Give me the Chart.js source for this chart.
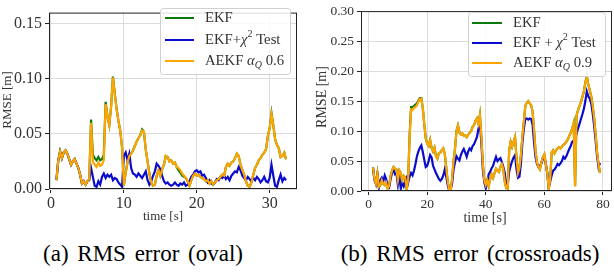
<!DOCTYPE html>
<html>
<head>
<meta charset="utf-8">
<script src="https://cdn.jsdelivr.net/npm/chart.js@4.4.0/dist/chart.umd.min.js"></script>
<style>
  body { margin: 0; background: #fff; }
  #wrap { position: relative; width: 614px; height: 272px; }
  .panel { position: absolute; top: 0; width: 307px; height: 228px; }
  .cap { position: absolute; top: 241px; font-family: "Liberation Serif", serif; font-size: 23px;
         line-height: 26px; white-space: nowrap; transform: translateX(-50%); color: #000; word-spacing: 3px; }
</style>
</head>
<body>
<div id="wrap">
  <div class="panel" style="left:0"><canvas id="oval" width="307" height="228"></canvas></div>
  <div class="panel" style="left:307px"><canvas id="cross" width="307" height="228"></canvas></div>
  <div class="cap" style="left:143px">(a) RMS error (oval)</div>
  <div class="cap" style="left:470px">(b) RMS error (crossroads)</div>
</div>
<script>
// ---- oval run: samples every 0.25 s starting at 0.75 s
const ovalStart = 0.75, ovalStep = 0.25;
const ovalEkf = [
  0.008,
  0.026, 0.034, 0.028, 0.033,  0.035, 0.032, 0.027, 0.022,  0.025, 0.027, 0.023, 0.019,
  0.013, 0.005, 0.007, 0.004,  0.007, 0.009, 0.063, 0.031,  0.028, 0.026, 0.029, 0.026,
  0.027, 0.031, 0.079, 0.066,  0.058, 0.075, 0.102, 0.087,  0.073, 0.062, 0.053, 0.038,
  0.003, 0.015, 0.024, 0.030,  0.032, 0.035, 0.039, 0.043,  0.046, 0.049, 0.054, 0.052,
  0.036, 0.025, 0.014, 0.006,  0.003, 0.004, 0.012, 0.017,  0.012, 0.018, 0.022, 0.030,
  0.029, 0.025, 0.026, 0.023,  0.024, 0.020, 0.017, 0.015,  0.012, 0.011, 0.010, 0.007,
  0.003, 0.008, 0.012, 0.014,  0.012, 0.013, 0.011, 0.010,  0.009, 0.007, 0.008, 0.005,
  0.007, 0.004, 0.006, 0.008,  0.009, 0.011, 0.013, 0.012,  0.020, 0.023, 0.021, 0.024,
  0.025, 0.028, 0.032, 0.030,  0.022, 0.017, 0.013, 0.007,  0.003, 0.002, 0.006, 0.013,
  0.019, 0.022, 0.026, 0.028,  0.031, 0.033, 0.036, 0.048,  0.055, 0.069, 0.058, 0.045,
  0.040, 0.037, 0.029, 0.030,  0.033, 0.027
];
const ovalChi2 = [
  0.008,
  0.026, 0.034, 0.028, 0.033,  0.035, 0.032, 0.027, 0.022,  0.025, 0.027, 0.023, 0.019,
  0.013, 0.005, 0.007, 0.004,  0.007, 0.008, 0.019, 0.011,  0.003, 0.002, 0.007, 0.004,
  0.011, 0.014, 0.010, 0.013,  0.011, 0.013, 0.008, 0.010,  0.009, 0.006, 0.004, 0.002,
  0.030, 0.033, 0.026, 0.032,  0.019, 0.014, 0.013, 0.011,  0.014, 0.012, 0.010, 0.013,
  0.016, 0.008, 0.004, 0.007,  0.012, 0.016, 0.023, 0.021,  0.018, 0.012, 0.007, 0.005,
  0.006, 0.004, 0.003, 0.004,  0.006, 0.004, 0.003, 0.005,  0.004, 0.006, 0.003, 0.004,
  0.007, 0.011, 0.013, 0.016,  0.017, 0.015, 0.016, 0.012,  0.013, 0.010, 0.006, 0.008,
  0.005, 0.004, 0.006, 0.009,  0.008, 0.011, 0.010, 0.012,  0.009, 0.011, 0.008, 0.012,
  0.014, 0.016, 0.015, 0.020,  0.017, 0.012, 0.010, 0.008,  0.011, 0.009, 0.007, 0.010,
  0.008, 0.011, 0.009, 0.006,  0.008, 0.011, 0.007, 0.006,  0.010, 0.022, 0.012, 0.003,
  0.002, 0.008, 0.013, 0.007,  0.010, 0.008
];
const ovalAekf = [
  0.008,
  0.026, 0.034, 0.028, 0.033,  0.035, 0.032, 0.027, 0.022,  0.025, 0.027, 0.023, 0.019,
  0.013, 0.005, 0.007, 0.004,  0.007, 0.009, 0.060, 0.025,  0.022, 0.020, 0.024, 0.021,
  0.022, 0.026, 0.077, 0.066,  0.058, 0.075, 0.101, 0.086,  0.072, 0.062, 0.053, 0.038,
  0.003, 0.015, 0.024, 0.030,  0.032, 0.035, 0.039, 0.043,  0.046, 0.049, 0.053, 0.052,
  0.036, 0.025, 0.014, 0.006,  0.003, 0.004, 0.012, 0.017,  0.012, 0.018, 0.022, 0.030,
  0.029, 0.025, 0.026, 0.023,  0.024, 0.020, 0.019, 0.017,  0.014, 0.012, 0.010, 0.007,
  0.003, 0.008, 0.012, 0.014,  0.012, 0.013, 0.011, 0.010,  0.009, 0.007, 0.008, 0.005,
  0.007, 0.004, 0.006, 0.008,  0.009, 0.011, 0.013, 0.012,  0.020, 0.023, 0.021, 0.024,
  0.025, 0.028, 0.032, 0.030,  0.022, 0.017, 0.013, 0.007,  0.003, 0.002, 0.006, 0.013,
  0.019, 0.022, 0.026, 0.028,  0.031, 0.033, 0.036, 0.048,  0.055, 0.068, 0.058, 0.045,
  0.040, 0.037, 0.029, 0.030,  0.033, 0.027
];
const ovalXTicks = [0, 10, 20, 30];
const ovalYTicks = [0, 0.05, 0.10, 0.15];

// ---- crossroads run: samples every 0.5 s starting at 1.5 s
const crossStart = 1.5, crossStep = 0.5;
const crossEkf = [
  0.039,
  0.020, 0.012, 0.029, 0.007,  0.010, 0.018, 0.012, 0.010,  0.014, 0.004, 0.008, 0.025,
  0.034, 0.040, 0.037, 0.036,  0.018, 0.034, 0.030, 0.018,  0.025, 0.022, 0.002, 0.020,
  0.093, 0.140, 0.140, 0.142,  0.144, 0.146, 0.151, 0.155,  0.155, 0.138, 0.112, 0.088,
  0.079, 0.075, 0.085, 0.072,  0.066, 0.072, 0.058, 0.054,  0.063, 0.064, 0.068, 0.071,
  0.062, 0.040, 0.016, 0.002,  0.000, 0.020, 0.050, 0.071,  0.100, 0.109, 0.098, 0.094,
  0.096, 0.092, 0.093, 0.090,  0.094, 0.097, 0.100, 0.107,  0.110, 0.117, 0.121, 0.112,
  0.127, 0.090, 0.045, 0.018,  0.010, 0.018, 0.008, 0.020,  0.028, 0.022, 0.030, 0.037,
  0.034, 0.032, 0.040, 0.045,  0.036, 0.015, 0.005, 0.004,  0.068, 0.082, 0.074, 0.082,
  0.090, 0.055, 0.030, 0.038,  0.060, 0.090, 0.115, 0.142,  0.147, 0.150, 0.146, 0.143,
  0.132, 0.100, 0.066, 0.047,  0.040, 0.036, 0.048, 0.056,  0.061, 0.045, 0.030, 0.003,
  0.020, 0.064, 0.068, 0.063,  0.068, 0.071, 0.073, 0.071,  0.074, 0.077, 0.079, 0.082,
  0.086, 0.092, 0.097, 0.104,  0.113, 0.008, 0.126, 0.135,  0.142, 0.148, 0.157, 0.166,
  0.181, 0.192, 0.178, 0.168,  0.158, 0.142, 0.122, 0.095,  0.065, 0.045, 0.030
];
const crossChi2 = [
  0.039,
  0.018, 0.012, 0.028, 0.006,  0.018, 0.022, 0.016, 0.026,  0.020, 0.008, 0.006, 0.020,
  0.030, 0.036, 0.028, 0.030,  0.010, 0.024, 0.004, 0.014,  0.008, 0.016, 0.022, 0.014,
  0.024, 0.030, 0.026, 0.034,  0.045, 0.058, 0.066, 0.072,  0.076, 0.065, 0.052, 0.040,
  0.042, 0.050, 0.060, 0.056,  0.042, 0.036, 0.030, 0.025,  0.020, 0.017, 0.020, 0.026,
  0.036, 0.024, 0.010, 0.001,  0.003, 0.012, 0.036, 0.048,  0.058, 0.054, 0.051, 0.060,
  0.066, 0.070, 0.064, 0.057,  0.066, 0.071, 0.068, 0.075,  0.078, 0.084, 0.090, 0.104,
  0.114, 0.080, 0.036, 0.015,  0.005, 0.016, 0.028, 0.032,  0.038, 0.042, 0.050, 0.057,
  0.050, 0.053, 0.055, 0.048,  0.040, 0.030, 0.008, 0.012,  0.032, 0.042, 0.050, 0.056,
  0.060, 0.036, 0.022, 0.024,  0.045, 0.080, 0.104, 0.120,  0.121, 0.119, 0.121, 0.120,
  0.110, 0.080, 0.056, 0.045,  0.040, 0.042, 0.046, 0.055,  0.054, 0.046, 0.030, 0.006,
  0.016, 0.026, 0.034, 0.036,  0.040, 0.045, 0.043, 0.046,  0.050, 0.057, 0.054, 0.058,
  0.064, 0.070, 0.075, 0.082,  0.084, 0.086, 0.096, 0.104,  0.112, 0.120, 0.128, 0.137,
  0.150, 0.166, 0.158, 0.154,  0.146, 0.130, 0.109, 0.085,  0.058, 0.040, 0.047
];
const crossAekf = [
  0.039,
  0.020, 0.012, 0.029, 0.007,  0.010, 0.018, 0.012, 0.010,  0.014, 0.004, 0.008, 0.025,
  0.034, 0.040, 0.037, 0.036,  0.018, 0.034, 0.030, 0.018,  0.025, 0.022, 0.002, 0.020,
  0.090, 0.136, 0.135, 0.139,  0.140, 0.143, 0.149, 0.153,  0.154, 0.138, 0.112, 0.088,
  0.079, 0.075, 0.085, 0.072,  0.066, 0.072, 0.058, 0.054,  0.063, 0.064, 0.068, 0.071,
  0.062, 0.040, 0.016, 0.002,  0.000, 0.020, 0.050, 0.071,  0.100, 0.109, 0.098, 0.094,
  0.096, 0.092, 0.093, 0.090,  0.094, 0.097, 0.100, 0.107,  0.110, 0.117, 0.121, 0.112,
  0.127, 0.090, 0.045, 0.018,  0.010, 0.018, 0.008, 0.020,  0.028, 0.022, 0.030, 0.037,
  0.034, 0.032, 0.040, 0.045,  0.036, 0.015, 0.005, 0.004,  0.068, 0.082, 0.074, 0.082,
  0.090, 0.055, 0.030, 0.038,  0.060, 0.090, 0.115, 0.142,  0.147, 0.150, 0.146, 0.143,
  0.132, 0.100, 0.066, 0.047,  0.040, 0.036, 0.048, 0.056,  0.061, 0.045, 0.030, 0.003,
  0.020, 0.064, 0.068, 0.063,  0.068, 0.071, 0.073, 0.071,  0.074, 0.077, 0.079, 0.082,
  0.086, 0.092, 0.097, 0.104,  0.113, 0.008, 0.126, 0.135,  0.142, 0.148, 0.157, 0.166,
  0.180, 0.190, 0.178, 0.168,  0.158, 0.142, 0.122, 0.095,  0.065, 0.045, 0.030
];
const crossXTicks = [0, 20, 40, 60, 80];
const crossYTicks = [0, 0.05, 0.10, 0.15, 0.20, 0.25, 0.30];

const GREEN = '#0b7a0b', BLUE = '#0b0bcc', ORANGE = '#ffa500';
const SERIF = '"Liberation Serif", "Times New Roman", serif';

// legend rows: pieces of text, with italic / superscript / subscript parts
const ovalLegend = [
  [{ t: 'EKF' }],
  [{ t: 'EKF+' }, { t: 'χ', it: true }, { t: '2', sup: true }, { t: ' Test' }],
  [{ t: 'AEKF ' }, { t: 'α', it: true }, { t: 'Q', sub: true, it: true }, { t: ' 0.6' }]
];
const crossLegend = [
  [{ t: 'EKF' }],
  [{ t: 'EKF + ' }, { t: 'χ', it: true }, { t: '2', sup: true }, { t: ' Test' }],
  [{ t: 'AEKF ' }, { t: 'α', it: true }, { t: 'Q', sub: true, it: true }, { t: ' 0.9' }]
];

function toPoints(start, step, values) {
  return values.map((v, i) => ({ x: start + i * step, y: v }));
}

const frame = {
  id: 'frame',
  afterDraw(chart, args, o) {
    const { ctx, chartArea: a } = chart;
    ctx.save();
    // full box around the plot
    ctx.strokeStyle = '#222';
    ctx.lineWidth = 1;
    ctx.strokeRect(a.left + 0.5, a.top + 0.5, a.right - a.left - 1, a.bottom - a.top - 1);

    // axis titles
    ctx.fillStyle = '#333';
    ctx.font = o.titleSize + 'px ' + SERIF;
    ctx.textAlign = 'center';
    ctx.textBaseline = 'middle';
    ctx.fillText('time [s]', o.xTitle[0], o.xTitle[1]);
    ctx.save();
    ctx.translate(o.yTitle[0], o.yTitle[1]);
    ctx.rotate(-Math.PI / 2);
    ctx.fillText('RMSE [m]', 0, 0);
    ctx.restore();

    // legend box
    const b = o.box;
    ctx.fillStyle = 'rgba(255,255,255,0.85)';
    ctx.strokeStyle = '#d0d0d0';
    ctx.beginPath();
    ctx.roundRect(b[0] + 0.5, b[1] + 0.5, b[2] - b[0], b[3] - b[1], 3);
    ctx.fill();
    ctx.stroke();

    const colors = [GREEN, BLUE, ORANGE];
    const fs = o.legendSize;
    o.rows.forEach((row, i) => {
      const y = o.rowY[i];
      ctx.strokeStyle = colors[i];
      ctx.lineWidth = 2;
      ctx.beginPath();
      ctx.moveTo(o.lineX[0], y);
      ctx.lineTo(o.lineX[1], y);
      ctx.stroke();
      let x = o.textX;
      ctx.fillStyle = '#333';
      ctx.textAlign = 'left';
      ctx.textBaseline = 'middle';
      row.forEach(p => {
        const size = (p.sup || p.sub) ? Math.round(fs * 0.7) : fs;
        ctx.font = (p.it ? 'italic ' : '') + size + 'px ' + SERIF;
        const dy = p.sup ? -fs * 0.35 : p.sub ? fs * 0.3 : 0;
        ctx.fillText(p.t, x, y + dy);
        x += ctx.measureText(p.t).width;
      });
    });
    ctx.restore();
  }
};

function makeChart(id, opt) {
  const ds = (label, values, color, order) => ({
    label,
    data: toPoints(opt.start, opt.step, values),
    borderColor: color,
    borderWidth: 2.2,
    pointRadius: 0,
    tension: 0,
    order
  });
  return new Chart(document.getElementById(id), {
    type: 'line',
    data: {
      datasets: [
        ds('EKF', opt.ekf, GREEN, 3),
        ds('EKF + chi2 Test', opt.chi2, BLUE, 2),
        ds('AEKF', opt.aekf, ORANGE, 1)
      ]
    },
    options: {
      responsive: false,
      animation: false,
      events: [],
      layout: { padding: { left: 0, right: opt.padRight, top: opt.padTop, bottom: 0 } },
      plugins: { legend: { display: false }, tooltip: { enabled: false }, frame: opt.frame },
      scales: {
        x: {
          type: 'linear',
          min: opt.xMin, max: opt.xMax,
          afterBuildTicks: s => { s.ticks = opt.xTicks.map(v => ({ value: v })); },
          afterFit: s => { s.height = opt.xHeight; },
          grid: { color: '#dcdcdc', lineWidth: 1, tickColor: '#222', tickLength: 4 },
          border: { display: false },
          ticks: { color: '#333', font: { family: SERIF, size: opt.tickSize }, padding: 1, maxRotation: 0 }
        },
        y: {
          min: 0, max: opt.yMax,
          afterBuildTicks: s => { s.ticks = opt.yTicks.map(v => ({ value: v })); },
          afterFit: s => { s.width = opt.yWidth; },
          grid: { color: '#dcdcdc', lineWidth: 1, tickColor: '#222', tickLength: 4 },
          border: { display: false },
          ticks: { color: '#333', font: { family: SERIF, size: opt.tickSize }, padding: 3,
                   callback: v => v.toFixed(2) }
        }
      }
    },
    plugins: [frame]
  });
}

makeChart('oval', {
  start: ovalStart, step: ovalStep,
  ekf: ovalEkf, chi2: ovalChi2, aekf: ovalAekf,
  xMin: -0.27, xMax: 33.75, yMax: 0.16,
  xTicks: ovalXTicks, yTicks: ovalYTicks,
  yWidth: 49, xHeight: 39, padRight: 10, padTop: 2, tickSize: 16,
  frame: {
    titleSize: 13, xTitle: [163, 217], yTitle: [8, 100],
    box: [160, 8, 290, 74], rowY: [18, 40, 61], lineX: [165, 194], textX: 205,
    legendSize: 14.7, rows: ovalLegend
  }
});

makeChart('cross', {
  start: crossStart, step: crossStep,
  ekf: crossEkf, chi2: crossChi2, aekf: crossAekf,
  xMin: -2.6, xMax: 83.1, yMax: 0.30,
  xTicks: crossXTicks, yTicks: crossYTicks,
  yWidth: 54, xHeight: 37, padRight: 2, padTop: 4, tickSize: 13.5,
  frame: {
    titleSize: 14, xTitle: [178, 218], yTitle: [15, 97],
    box: [161, 12, 298, 76], rowY: [23, 43, 63], lineX: [165, 195], textX: 206,
    legendSize: 14.7, rows: crossLegend
  }
});
</script>
</body>
</html>
